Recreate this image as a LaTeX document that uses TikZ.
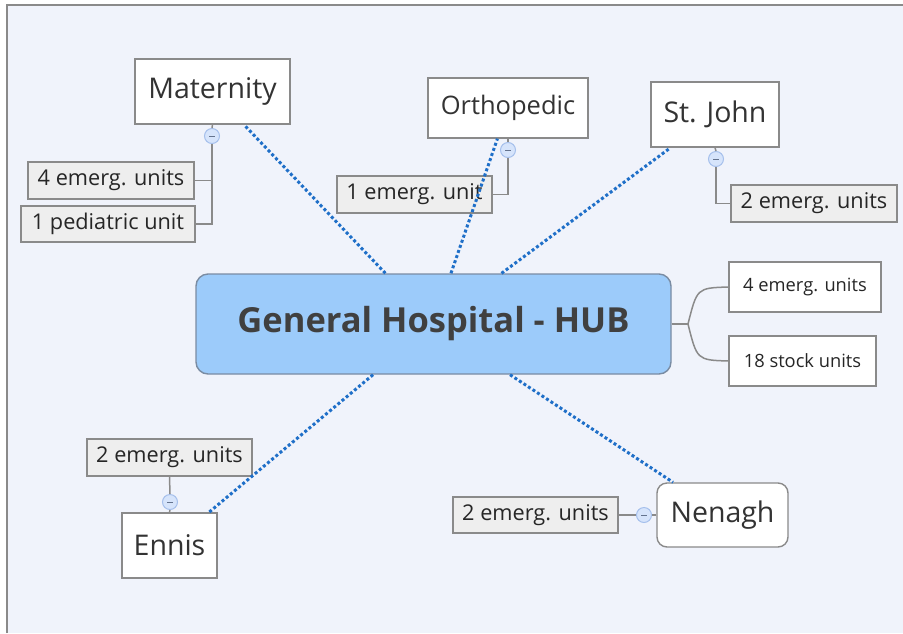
\documentclass[tikz,border=0pt]{standalone}
\usepackage{fontspec}
\setmainfont{Open Sans}

\definecolor{paper}{HTML}{F0F3FB}
\definecolor{hubblue}{HTML}{9CCBFA}
\definecolor{hubedge}{HTML}{7A8CA3}
\definecolor{boxedge}{HTML}{8A8A8A}
\definecolor{leafgray}{HTML}{EEEEEE}
\definecolor{ink}{HTML}{333333}
\definecolor{linkblue}{HTML}{1F6FC8}
\definecolor{knobfill}{HTML}{D6E4FB}
\definecolor{knobedge}{HTML}{A6C0EC}

\begin{document}
\begin{tikzpicture}[x=1pt,y=-1pt,
    topic/.style={draw=boxedge, fill=white, line width=1.4pt, inner sep=0pt,
      text=ink, font=\fontsize{28.5}{32}\selectfont},
    leaf/.style={draw=boxedge, fill=leafgray, line width=1.4pt, inner sep=0pt,
      text=black!85, font=\fontsize{21.7}{25}\selectfont},
    leafw/.style={leaf, fill=white, font=\fontsize{18.3}{21}\selectfont},
    knob/.style={circle, draw=knobedge, fill=knobfill, line width=1pt,
      minimum size=15pt, inner sep=0pt,
      path picture={\draw[knobedge!60!black, line width=1pt]
        ([xshift=-3pt]path picture bounding box.center) --
        ([xshift=3pt]path picture bounding box.center);}},
    branch/.style={draw=boxedge, line width=1.5pt},
    link/.style={draw=linkblue, line width=3pt, dash pattern=on 3pt off 2.4pt}]

    % page
    \useasboundingbox (0,0) rectangle (903,633);
    \fill [white] (0,0) rectangle (903,633);
    \fill [paper] (7,5) rectangle (903,633);
    \draw [boxedge, line width=2pt] (7,633) -- (7,5) -- (903,5);

    % central topic
    \node [draw=hubedge, fill=hubblue, line width=1.4pt, rounded corners=12pt,
      minimum width=475pt, minimum height=100pt, inner sep=0pt,
      text=black!75, font=\fontsize{34.5}{38}\selectfont\bfseries] (hub) at (433.5,324)
      {General Hospital - HUB};

    % main topics
    \node [topic, minimum width=155pt, minimum height=65pt] (mat) at (212.5,91.5) {Maternity};
    \node [topic, minimum width=160pt, minimum height=60pt,
      font=\fontsize{25.5}{29}\selectfont] (orth) at (508,108) {Orthopedic};
    \node [topic, minimum width=128pt, minimum height=65pt] (john) at (715,114.5) {St. John};
    \node [topic, minimum width=95pt, minimum height=65pt] (ennis) at (169.5,545.5) {Ennis};
    \node [topic, rounded corners=10pt, minimum width=131pt, minimum height=64pt] (nen) at (722.5,515) {Nenagh};

    % subtopics
    \node [leaf, minimum width=166pt, minimum height=37pt] (mat4) at (111,180.5) {4 emerg. units};
    \node [leaf, minimum width=174pt, minimum height=36pt] (matped) at (108,224) {1 pediatric unit};
    \node [leaf, minimum width=155pt, minimum height=37pt] (orth1) at (414.5,194.5) {1 emerg. unit};
    \node [leaf, minimum width=166pt, minimum height=37pt] (john2) at (814,203.5) {2 emerg. units};
    \node [leaf, minimum width=165pt, minimum height=37pt] (ennis2) at (169.5,457.5) {2 emerg. units};
    \node [leaf, minimum width=165pt, minimum height=36pt] (nen2) at (535.5,515) {2 emerg. units};
    \node [leafw, minimum width=152pt, minimum height=50pt] (hub4) at (805,287) {4 emerg. units};
    \node [leafw, minimum width=147pt, minimum height=50pt] (hub18) at (802.5,361) {18 stock units};

    % blue links (on top of the boxes)
    \foreach \t in {mat,orth,john,ennis,nen}
        \draw [link] (hub) -- (\t);

    % collapse knobs
    \node [knob] (matk) at (212,136) {};
    \node [knob] (orthk) at (508,150) {};
    \node [knob] (johnk) at (716,159) {};
    \node [knob] (ennisk) at (170,502) {};
    \node [knob] (nenk) at (644,515) {};

    % gray branches
    \draw [branch] (mat.south) -- (matk.north);
    \draw [branch] (matk.south) |- (mat4.east);
    \draw [branch] (matk.south) |- (matped.east);
    \draw [branch] (orth.south) -- (orthk.north);
    \draw [branch] (orthk.south) |- (orth1.east);
    \draw [branch] (john.south) -- (johnk.north);
    \draw [branch] (johnk.south) |- (john2.west);
    \draw [branch] (ennis.north) -- (ennisk.south);
    \draw [branch] (ennisk.north) -- (ennis2.south);
    \draw [branch] (nen.west) -- (nenk.east);
    \draw [branch] (nenk.west) -- (nen2.east);

    \coordinate (fork) at (688,324);
    \draw [branch] (hub.east) -- (fork);
    \draw [branch] (fork) .. controls (697,288) .. (hub4.west);
    \draw [branch] (fork) .. controls (697,360) .. (hub18.west);
\end{tikzpicture}
\end{document}
